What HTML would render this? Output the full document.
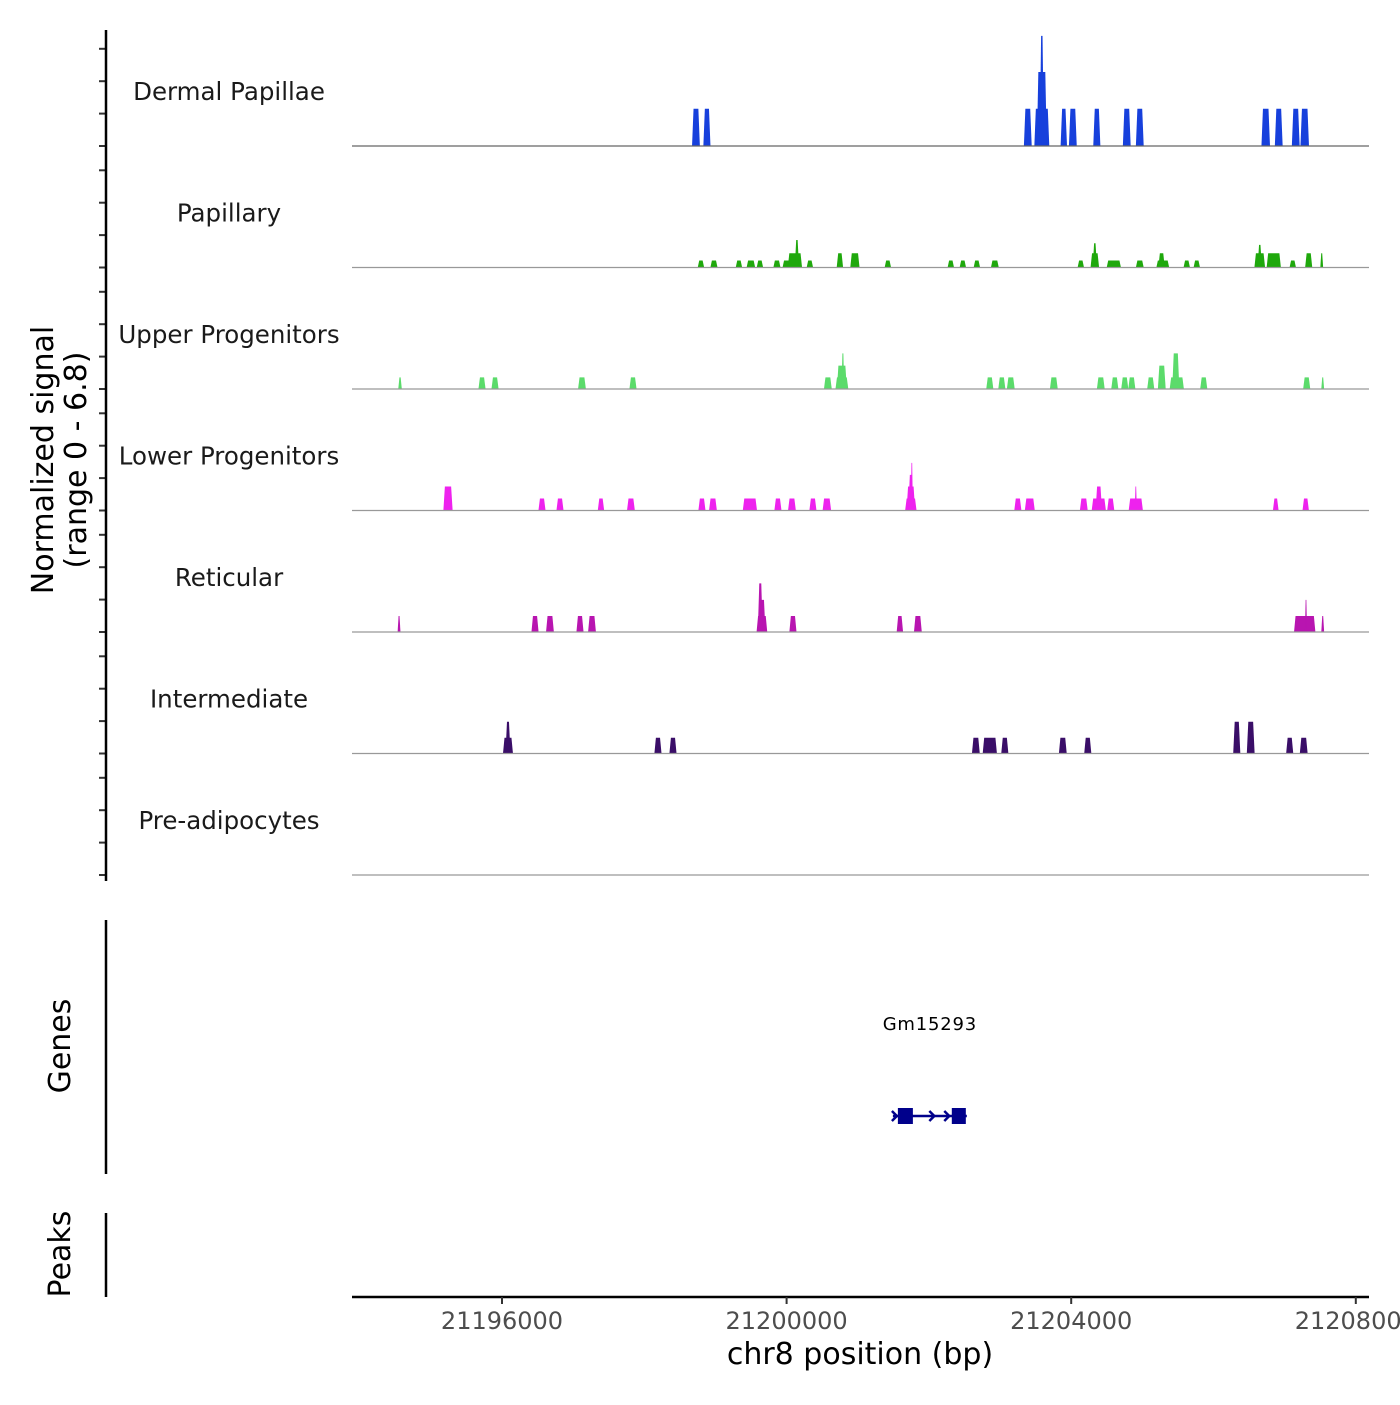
<!DOCTYPE html>
<html><head><meta charset="utf-8"><style>
body{margin:0;background:#fff}
svg text{font-family:"DejaVu Sans","Liberation Sans",sans-serif}
</style></head><body>
<svg id="chart" width="1400" height="1400" viewBox="0 0 1400 1400" xmlns="http://www.w3.org/2000/svg">
<rect width="1400" height="1400" fill="#fff"/>
<g id="tracks"></g>
<g id="axes"></g>
<text transform="translate(53,460) rotate(-90)" text-anchor="middle" font-size="30" fill="#000">Normalized signal</text>
<text transform="translate(86,460) rotate(-90)" text-anchor="middle" font-size="30" fill="#000">(range 0 - 6.8)</text>
<text transform="translate(70,1046) rotate(-90)" text-anchor="middle" font-size="30" fill="#000">Genes</text>
<text transform="translate(70,1254) rotate(-90)" text-anchor="middle" font-size="30" fill="#000">Peaks</text>
<text x="860" y="1364" text-anchor="middle" font-size="30" fill="#000">chr8 position (bp)</text>
</svg>
<script>
const trackNames = ["Dermal Papillae","Papillary","Upper Progenitors","Lower Progenitors","Reticular","Intermediate","Pre-adipocytes"];
const trackColors = ["#1740dc","#1fa80c","#5bdb6b","#ee22ee","#b815b0","#3a0e68","#777777"];
// peaks: [offset from 21196000 bp, width bp, value]
const dermalPeaks = [[2726,110,2.3],[2880,100,2.3],[7390,110,2.3],[7587,210,2.3],[7587,140,4.57],[7587,60,6.8],[7896,90,2.3],[8023,110,2.3],[8360,100,2.3],[8781,110,2.3],[8964,110,2.3],[10734,120,2.3],[10917,110,2.3],[11156,110,2.3],[11282,120,2.3]];
const papillaryPeaks = [[2796,90,.43],[2979,100,.43],[3330,90,.43],[3498,120,.43],[3625,90,.43],[3864,100,.43],[4018,150,.43],[4117,200,.88],[4145,60,1.7],[4327,90,.43],[4749,90,.88],[4960,130,.88],[5423,90,.43],[6308,90,.43],[6477,90,.43],[6674,90,.43],[6927,110,.43],[8135,90,.43],[8332,120,.88],[8332,60,1.5],[8599,200,.43],[8964,110,.43],[9287,180,.43],[9270,90,.88],[9624,90,.43],[9765,90,.43],[10650,150,.88],[10650,60,1.4],[10847,200,.88],[11114,90,.43],[11338,100,.88],[11521,40,.88]];
const upperPeaks = [[-1433,50,.72],[-281,100,.72],[-98,100,.72],[1124,110,.72],[1841,100,.72],[4580,110,.72],[4777,180,.72],[4777,140,1.44],[4791,40,2.2],[6856,100,.72],[7025,100,.72],[7151,110,.72],[7756,110,.72],[8416,110,.72],[8613,100,.72],[8753,100,.72],[8852,100,.72],[9118,100,.72],[9273,110,1.44],[9484,200,.72],[9470,100,2.2],[9863,100,.72],[11310,100,.72],[11535,40,.72]];
const lowerPeaks = [[-759,130,1.48],[562,100,.74],[815,100,.74],[1391,90,.74],[1812,110,.74],[2810,100,.74],[2965,110,.74],[3484,200,.74],[3878,100,.74],[4075,110,.74],[4370,100,.74],[4566,120,.74],[5746,160,.74],[5746,120,1.48],[5746,70,2.2],[5760,30,2.94],[7250,100,.74],[7418,140,.74],[8177,110,.74],[8388,200,.74],[8388,90,1.48],[8556,100,.74],[8908,200,.74],[8908,30,1.48],[10875,80,.74],[11296,90,.74]];
const reticularPeaks = [[-1447,40,.99],[464,100,.99],[674,110,.99],[1096,100,.99],[1265,110,.99],[3653,150,.99],[3653,100,1.98],[3630,70,3.0],[4089,100,.99],[5592,90,.99],[5845,110,.99],[11282,300,.99],[11300,30,1.98],[11535,40,.99]];
const intermediatePeaks = [[84,140,.97],[84,70,1.96],[2192,100,.97],[2403,100,.97],[6660,110,.97],[6856,200,.97],[7067,100,.97],[7882,110,.97],[8233,100,.97],[10327,100,1.96],[10523,110,1.96],[11071,100,.97],[11268,110,.97]];
const preadipocytePeaks = [];
const xTicks = [21196000,21200000,21204000,21208000];
const yTickValues = [0,2,4,6];
const geneName = "Gm15293";
const geneStart = 21201494, geneEnd = 21202533;
const geneExons = [[21201564,21201775],[21202322,21202519]];
const geneArrows = [21201494,21202020,21202230];

const allPeaks=[dermalPeaks,papillaryPeaks,upperPeaks,lowerPeaks,reticularPeaks,intermediatePeaks,preadipocytePeaks];
const NS="http://www.w3.org/2000/svg";
const X0=352,X1=1369,BP_ORIGIN=21196000;
function xScale(bp){return 502+(bp-21196000)*(284.6/4000);}
const trackBase=i=>146+i*121.5;
function yScale(i,v){return trackBase(i)-v*16.2;}
function mk(tag,attrs,parent){const e=document.createElementNS(NS,tag);for(const k in attrs)e.setAttribute(k,attrs[k]);parent.appendChild(e);return e;}
const tracks=document.getElementById('tracks'),axes=document.getElementById('axes');
allPeaks.forEach((peaks,i)=>{
  const g=mk('g',{},tracks);
  
  
  peaks.forEach(p=>{
    const xa=xScale(BP_ORIGIN+p[0]-p[1]/2),xb=xScale(BP_ORIGIN+p[0]+p[1]/2);
    const yb=trackBase(i),yt=yScale(i,p[2]);
    const ins=Math.min(1.5,(xb-xa)/3);
    const poly=mk('polygon',{points:`${xa},${yb} ${xa+ins},${yt} ${xb-ins},${yt} ${xb},${yb}`,fill:trackColors[i]},g);
    
    
  });
  const bl=mk('line',{x1:X0,x2:X1,y1:trackBase(i),y2:trackBase(i),stroke:i==0?'#666':'#999','stroke-width':1.2},g);
  
  
  const t=mk('text',{x:229,y:trackBase(i)-46,'text-anchor':'middle','font-size':24.5,fill:'#1a1a1a'},g);
  t.textContent=trackNames[i];
  
  
  yTickValues.forEach(v=>{
    const tk=mk('line',{x1:99,x2:106,y1:yScale(i,v),y2:yScale(i,v),stroke:'#333','stroke-width':2},axes);
    
    
  });
});
const ya=mk('line',{x1:106,x2:106,y1:30,y2:881,stroke:'#000','stroke-width':2.5},axes);


const ga=mk('line',{x1:106,x2:106,y1:920,y2:1174,stroke:'#000','stroke-width':2.5},axes);


const pa=mk('line',{x1:106,x2:106,y1:1213,y2:1297,stroke:'#000','stroke-width':2.5},axes);


const xa=mk('line',{x1:X0,x2:1369,y1:1297,y2:1297,stroke:'#000','stroke-width':2.5},axes);


xTicks.forEach(v=>{
  const x=xScale(v);
  const tk=mk('line',{x1:x,x2:x,y1:1297,y2:1304,stroke:'#333','stroke-width':2},axes);
  
  
  const tl=mk('text',{x:x,y:1329,'text-anchor':'middle','font-size':24,fill:'#4d4d4d'},axes);
  tl.textContent=v;
  
  
});
// gene
const gg=mk('g',{},tracks);


const gl=mk('text',{x:(xScale(geneStart)+xScale(geneEnd))/2,y:1030,'text-anchor':'middle','font-size':18,fill:'#000','letter-spacing':'0.8'},gg);
gl.textContent=geneName;


const gline=mk('line',{x1:xScale(geneStart),x2:xScale(geneEnd),y1:1116,y2:1116,stroke:'#00008b','stroke-width':2.5},gg);


geneExons.forEach(e=>{
  const r=mk('rect',{x:xScale(e[0]),y:1108,width:xScale(e[1])-xScale(e[0]),height:16,fill:'#00008b'},gg);
  
  
});
geneArrows.forEach(b=>{
  const x=xScale(b)+3;
  const a=mk('polyline',{points:`${x-4},${1111} ${x+1},${1116} ${x-4},${1121}`,fill:'none',stroke:'#00008b','stroke-width':2.5},gg);
  
  
});
</script>
</body></html>
